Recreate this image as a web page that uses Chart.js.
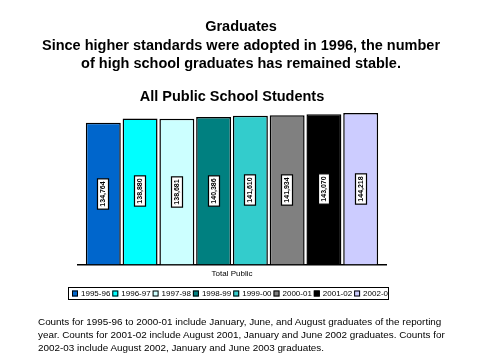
<!DOCTYPE html>
<html><head><meta charset="utf-8">
<script src="https://cdn.jsdelivr.net/npm/chart.js@4"></script>
<style>
html,body{margin:0;padding:0;background:#fff;}
#wrap{position:relative;width:480px;height:360px;}
canvas{position:absolute;left:0;top:0;}
#note{position:absolute;left:38px;top:315px;width:440px;font:9.9px "Liberation Sans",Arial,sans-serif;line-height:13px;color:#000;white-space:nowrap;}
</style></head>
<body><div id="wrap"><canvas id="c" width="480" height="360"></canvas>
<div id="note">Counts for 1995-96 to 2000-01 include January, June, and August graduates of the reporting<br>year. Counts for 2001-02 include August 2001, January and June 2002 graduates. Counts for<br>2002-03 include August 2002, January and June 2003 graduates.</div></div>
<script>
const categories = ["Total Public"];
const years = ["1995-96","1996-97","1997-98","1998-99","1999-00","2000-01","2001-02","2002-03"];
const graduates = [134764,138880,138681,140386,141610,141934,143070,144218];
const colors = ["#0066CC","#00FFFF","#CCFFFF","#008080","#33CCCC","#808080","#000000","#CCCCFF"];
const titleLines = ["Graduates","Since higher standards were adopted in 1996, the number","of high school graduates has remained stable."];
const subtitleText = "All Public School Students";

const FONT = "'Liberation Sans', Arial, sans-serif";
const fmt = v => v.toLocaleString("en-US");

const titlePlugin = {
  id:"titles",
  afterDraw(chart){
    const ctx=chart.ctx; ctx.save();
    ctx.fillStyle="#000"; ctx.textAlign="center"; ctx.textBaseline="middle";
    ctx.font="bold 14.5px "+FONT;
    const ys=[27,46,64];
    titleLines.forEach((t,i)=>ctx.fillText(t,241,ys[i]));
    ctx.fillText(subtitleText,232,97);
    ctx.restore();
  }
};
const labelPlugin = {
  id:"barLabels",
  afterDatasetsDraw(chart){
    const ctx = chart.ctx;
    ctx.save();
    ctx.font = "bold 7px "+FONT;
    chart.data.datasets.forEach((ds,i)=>{
      const meta = chart.getDatasetMeta(i);
      meta.data.forEach((bar,j)=>{
        const cx = bar.x, cy = (bar.y + bar.base)/2;
        const txt = fmt(ds.data[j]);
        const w = ctx.measureText(txt).width + 5, h = 11;
        ctx.save();
        ctx.translate(Math.round(cx), Math.round(cy));
        ctx.rotate(-Math.PI/2);
        ctx.fillStyle="#fff"; ctx.fillRect(-w/2,-h/2,w,h);
        ctx.strokeStyle="#000"; ctx.lineWidth=1.2; ctx.strokeRect(-w/2,-h/2,w,h);
        ctx.fillStyle="#000"; ctx.textAlign="center"; ctx.textBaseline="middle";
        ctx.fillText(txt,0,0.5);
        ctx.restore();
      });
    });
    ctx.restore();
  }
};
const legendPlugin = {
  id:"customLegend",
  afterDraw(chart){
    const ctx=chart.ctx; ctx.save();
    const L=68.5,T=287.5,W=320,H=12;
    ctx.strokeStyle="#000"; ctx.lineWidth=1; ctx.strokeRect(L,T,W,H);
    ctx.beginPath(); ctx.rect(L,T,W,H); ctx.clip();
    ctx.font="8px "+FONT; ctx.textBaseline="middle"; ctx.textAlign="left";
    chart.data.datasets.forEach((d,i)=>{
      const x=72+i*40.3, y=293.5;
      ctx.fillStyle=d.backgroundColor; ctx.fillRect(x,y-3,6,6);
      ctx.strokeStyle="#000"; ctx.strokeRect(x+0.5,y-2.5,5,5);
      ctx.fillStyle="#000"; ctx.fillText(d.label,x+9,y+0.5);
    });
    ctx.restore();
  }
};

new Chart(document.getElementById("c"),{
  type:"bar",
  data:{
    labels:categories,
    datasets:years.map((y,i)=>({label:y,data:[graduates[i]],backgroundColor:colors[i],borderColor:"#000",borderWidth:1.5,categoryPercentage:0.955,barPercentage:0.95}))
  },
  options:{
    responsive:false,animation:false,
    layout:{padding:{left:78,right:94,top:110,bottom:76}},
    scales:{
      y:{display:false,min:0,max:147000},
      x:{grid:{display:false,drawTicks:false},border:{display:true,color:"#000",width:1.5},
         ticks:{color:"#000",font:{size:8,family:FONT},padding:5}}
    },
    plugins:{
      title:{display:false},
      legend:{display:false},
      tooltip:{enabled:false}
    }
  },
  plugins:[titlePlugin,labelPlugin,legendPlugin]
});
</script></body></html>
